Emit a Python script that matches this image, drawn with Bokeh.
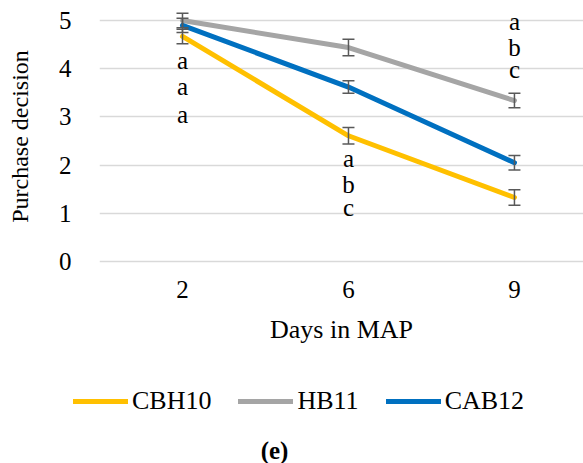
from bokeh.plotting import figure
from bokeh.layouts import column
from bokeh.models import (ColumnDataSource, Whisker, TeeHead, Legend, LegendItem,
                          Label, FixedTicker, Range1d)
from bokeh.core.properties import value
from bokeh.embed import file_html
from bokeh.resources import INLINE

# ---- data ----
days = ["2", "6", "9"]
cbh10 = [4.67, 2.61, 1.33]
cbh10_err = [0.15, 0.17, 0.16]
hb11 = [5.00, 4.44, 3.34]
hb11_err = [0.15, 0.17, 0.15]
cab12 = [4.90, 3.62, 2.05]
cab12_err = [0.15, 0.13, 0.15]

# significance letters (day index, letter, y value)
letter_day = [0, 0, 0, 1, 1, 1, 2, 2, 2]
letter_txt = ["a", "a", "a", "a", "b", "c", "a", "b", "c"]
letter_y = [4.17, 3.63, 3.06, 2.14, 1.60, 1.12, 4.98, 4.44, 3.99]

series_names = ["CBH10", "HB11", "CAB12"]
series_vals = [cbh10, hb11, cab12]
series_errs = [cbh10_err, hb11_err, cab12_err]
colors = ["#FFC000", "#A5A5A5", "#0070C0"]

FONT = "Liberation Serif"
FS = "25px"
FS_BIG = "26px"

xs = [i + 0.5 for i in range(len(days))]

p = figure(width=583, height=360, output_backend="svg", toolbar_location=None,
           x_range=Range1d(0, 2.916), y_range=Range1d(-0.06, 5.25))
p.min_border_left = 99
p.min_border_right = 0
p.min_border_top = 8
p.min_border_bottom = 96
p.outline_line_color = None
p.background_fill_color = "white"
p.border_fill_color = "white"

p.xgrid.grid_line_color = None
p.ygrid.grid_line_color = "#D9D9D9"
p.ygrid.grid_line_width = 1.5
p.yaxis.ticker = FixedTicker(ticks=[0, 1, 2, 3, 4, 5])
p.xaxis.ticker = FixedTicker(ticks=xs)
p.xaxis.major_label_overrides = {x: d for x, d in zip(xs, days)}

for ax in (p.xaxis, p.yaxis):
    ax.axis_line_color = None
    ax.major_tick_line_color = None
    ax.minor_tick_line_color = None
    ax.major_label_text_font = FONT
    ax.major_label_text_font_size = FS
    ax.major_label_text_color = "black"
    ax.axis_label_text_font = FONT
    ax.axis_label_text_font_style = "normal"
    ax.axis_label_text_color = "black"

p.yaxis.axis_label = "Purchase decision"
p.yaxis.axis_label_text_font_size = "24px"
p.yaxis.major_label_standoff = 22
p.yaxis.axis_label_standoff = 23
p.xaxis.axis_label = "Days in MAP"
p.xaxis.axis_label_text_font_size = FS_BIG
p.xaxis.major_label_standoff = 10
p.xaxis.axis_label_standoff = 14

for name, vals, errs, c in zip(series_names, series_vals, series_errs, colors):
    src = ColumnDataSource(dict(x=xs, y=vals,
                                lo=[v - e for v, e in zip(vals, errs)],
                                hi=[v + e for v, e in zip(vals, errs)]))
    p.line("x", "y", source=src, line_color=c, line_width=5,
           line_cap="round", line_join="round")
    w = Whisker(base="x", lower="lo", upper="hi", source=src,
                line_color="#595959", line_width=1.5, level="overlay",
                upper_head=TeeHead(size=12, line_color="#595959", line_width=1.5),
                lower_head=TeeHead(size=12, line_color="#595959", line_width=1.5))
    p.add_layout(w)

lsrc = ColumnDataSource(dict(x=[xs[d] for d in letter_day], y=letter_y, t=letter_txt))
p.text("x", "y", text="t", source=lsrc, text_font=value(FONT), text_font_size=FS,
       text_align="center", text_baseline="middle", text_color="black")

# ---- legend + caption strip ----
p2 = figure(width=583, height=103, output_backend="svg", toolbar_location=None,
            x_range=Range1d(0, 583), y_range=Range1d(0, 103), min_border=0)
p2.frame_align = False
p2.outline_line_color = None
p2.axis.visible = False
p2.grid.visible = False

nan = float("nan")
items = []
for name, c in zip(series_names, colors):
    r = p2.line(x=[nan], y=[nan], line_color=c, line_width=5, line_cap="round")
    items.append(LegendItem(label=name, renderers=[r]))

legend = Legend(items=items, orientation="horizontal", location=(73, 47),
                glyph_width=55, glyph_height=20, label_standoff=4, spacing=27,
                padding=0, margin=0, border_line_color=None,
                background_fill_alpha=0, label_text_font=FONT,
                label_text_font_size=FS_BIG, label_text_color="black")
p2.add_layout(legend, "center")

p2.add_layout(Label(x=274, y=13, text="(e)", text_font=FONT, text_font_size=FS,
                    text_font_style="bold", text_color="black",
                    text_align="center", text_baseline="middle"))

open("out.html", "w").write(file_html(column(p, p2), INLINE))
